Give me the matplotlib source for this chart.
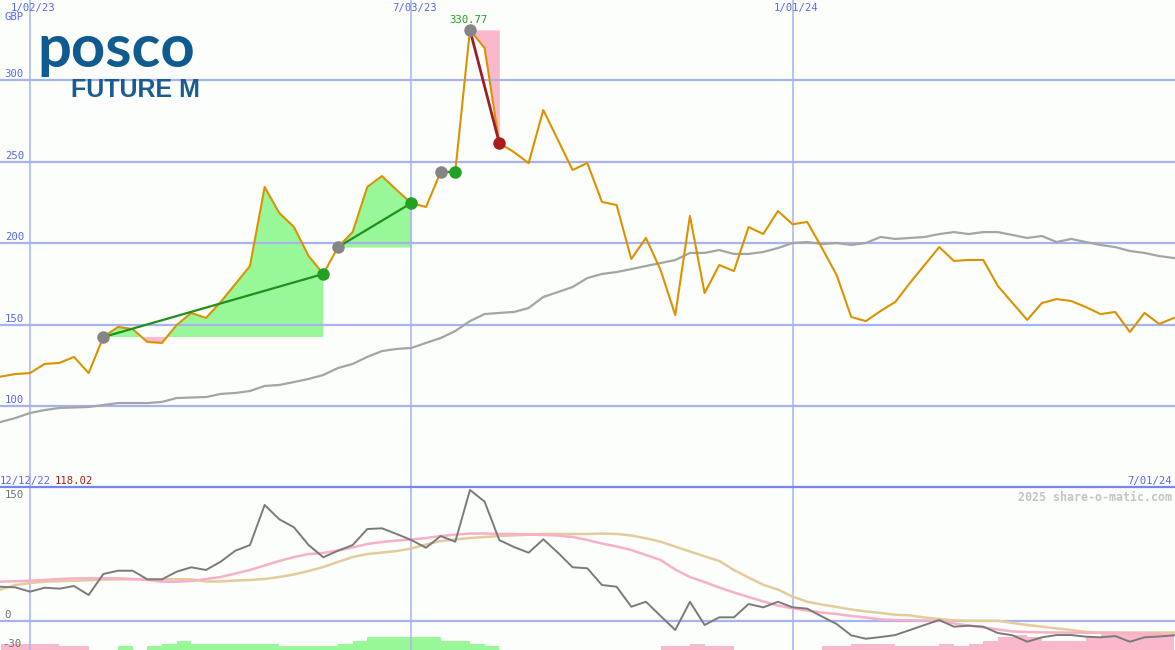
import matplotlib
matplotlib.use('Agg')
import matplotlib.pyplot as plt
import matplotlib.transforms as mtransforms
import matplotlib.dates as mdates
from matplotlib.lines import Line2D
import numpy as np
import pandas as pd

# weekly closes from 19 Dec 2022 to 1 Jul 2024
dates = pd.date_range('2022-12-19', periods=81, freq='7D')

price = [118.02, 119.6, 120.2, 125.8, 126.4, 130.1, 120.2, 142.3, 148.5, 147.2,
         139.3, 138.7, 149.7, 157.1, 154.0, 163.8, 174.8, 185.9, 234.4, 218.4,
         209.8, 192.0, 181.0, 197.5, 206.7, 234.4, 241.1, 232.5, 224.5, 222.1,
         243.4, 243.8, 330.77, 319.6, 261.3, 255.8, 249.0, 281.6, 263.2, 244.8,
         249.1, 225.2, 223.3, 190.2, 203.1, 183.4, 155.8, 216.6, 169.3, 186.5,
         182.8, 209.8, 205.5, 219.6, 211.5, 212.9, 197.0, 180.4, 154.6, 152.1,
         158.3, 163.8, 175.5, 186.5, 197.5, 189.0, 189.6, 189.6, 173.6, 163.2,
         152.8, 163.2, 165.6, 164.4, 160.7, 156.4, 157.7, 145.4, 157.1, 150.3,
         154.0]

avg = [90.2, 92.6, 95.7, 97.5, 98.8, 99.1, 99.4, 100.6, 101.8, 101.8,
       101.8, 102.5, 104.9, 105.2, 105.5, 107.4, 108.0, 109.2, 112.3, 112.9,
       114.7, 116.6, 119.0, 123.3, 125.8, 130.1, 133.7, 135.0, 135.6, 138.7,
       141.7, 146.0, 152.1, 156.4, 157.1, 157.7, 160.1, 166.9, 169.9, 173.0,
       178.5, 181.0, 182.2, 184.0, 185.9, 187.7, 189.6, 193.9, 193.9, 195.7,
       193.3, 193.3, 194.5, 196.9, 200.0, 200.6, 199.4, 200.0, 198.8, 200.0,
       203.7, 202.5, 203.1, 203.7, 205.5, 206.7, 205.5, 206.7, 206.7, 204.9,
       203.1, 204.3, 200.6, 202.5, 200.6, 198.8, 197.5, 195.1, 193.9, 192.0,
       190.8]

osc = [38.1, 37.4, 32.6, 37.0, 35.9, 38.9, 28.9, 52.2, 55.9, 55.9,
       46.3, 46.3, 54.8, 59.7, 56.7, 65.9, 78.1, 84.4, 128.9, 113.0,
       104.1, 84.4, 70.8, 78.1, 84.4, 102.2, 103.0, 96.7, 90.0, 81.4,
       94.4, 88.1, 145.6, 132.6, 90.0, 82.2, 75.9, 90.8, 75.9, 59.7,
       58.6, 40.0, 38.1, 15.9, 21.4, 5.6, -10.0, 21.4, -4.4, 4.1,
       4.1, 18.9, 15.2, 21.4, 15.2, 13.7, 5.0, -3.3, -15.9, -19.7,
       -17.8, -15.6, -10.0, -4.4, 1.1, -6.3, -5.2, -6.3, -13.3, -15.9,
       -23.0, -18.1, -15.6, -15.6, -17.4, -18.1, -16.7, -23.0, -18.1, -17.2,
       -15.9]

osc_fast = [43.7, 44.2, 44.8, 45.6, 46.7, 47.4, 47.4, 47.4, 47.4, 46.7,
            45.6, 43.7, 43.7, 44.4, 46.7, 48.9, 52.8, 56.7, 61.7, 66.7,
            71.1, 74.4, 75.6, 78.3, 81.7, 85.6, 87.8, 89.4, 90.6, 92.2,
            94.4, 96.1, 97.2, 97.2, 96.7, 96.7, 96.1, 95.6, 95.0, 93.3,
            90.0, 86.1, 82.8, 78.9, 73.3, 67.8, 57.2, 48.9, 43.3, 37.2,
            31.7, 26.7, 21.7, 17.2, 14.1, 11.7, 9.4, 7.8, 5.6, 3.9,
            1.7, 1.1, 0.8, 0.6, 0.3, -2.8, -5.0, -7.0, -9.4, -11.6,
            -12.2, -12.6, -12.8, -12.9, -13.0, -13.1, -13.2, -13.7, -14.2, -14.8,
            -15.6]

osc_slow = [35.2, 40.0, 42.2, 43.7, 44.2, 44.8, 45.2, 45.9, 46.3, 46.3,
            46.3, 46.3, 46.3, 46.3, 43.9, 43.9, 45.0, 45.6, 46.7, 48.9,
            51.7, 55.6, 60.0, 65.6, 71.1, 74.4, 76.1, 77.8, 80.6, 85.0,
            88.9, 90.6, 92.2, 93.3, 94.4, 95.2, 95.9, 96.7, 96.7, 96.7,
            96.7, 97.2, 96.7, 95.0, 91.9, 88.1, 82.7, 77.2, 71.9, 66.7,
            56.7, 48.3, 40.2, 35.0, 27.0, 21.4, 18.3, 15.6, 12.8, 10.6,
            8.9, 6.9, 6.3, 3.9, 2.2, 0.8, 0.3, 0.3, 0.3, -2.2,
            -4.4, -6.3, -8.1, -10.0, -12.0, -12.8, -12.8, -12.8, -12.8, -12.8,
            -12.8]

# one bar per week interval, sign gives the colour
hist = [-7, -7, -7, -7, -4, -4, 0, 0, 4, 0,
        4, 7, 10, 7, 7, 7, 7, 7, 7, 4,
        4, 4, 4, 7, 10, 14, 14, 14, 14, 14,
        10, 10, 7, 4, 0, 0, 0, 0, 0, 0,
        0, 0, 0, 0, 0, -4, -4, -7, -4, -4,
        0, 0, 0, 0, 0, 0, -4, -4, -7, -7,
        -7, -4, -4, -4, -7, -4, -7, -10, -14, -17,
        -14, -10, -10, -10, -14, -18, -18, -18, -17, -17]

trade_open = [7, 23, 30, 32]
trade_close = [22, 28, 31, 34]

grid_dates = ['2023-01-02', '2023-07-03', '2024-01-01']
grid_labels = ['1/02/23', '7/03/23', '1/01/24']
price_ticks = [100, 150, 200, 250, 300]
start_label = '12/12/22'
end_label = '7/01/24'

W, H = 1175, 650
bg = '#fbfefb'
grid_c = '#a8b2f0'
text_c = '#5a66f0'
green_fill = '#98f898'
pink_fill = '#f9b8cb'
mono = 'DejaVu Sans Mono'
fs = 7.7

x = mdates.date2num(dates)
gx = mdates.date2num(pd.to_datetime(grid_dates))

fig = plt.figure(figsize=(W / 100, H / 100), dpi=100, facecolor=bg)
split = (H - 487) / H
ax = fig.add_axes([0, split, 1, 1 - split])
ax2 = fig.add_axes([0, 0, 1, split])
for a in (ax, ax2):
    a.set_xlim(x[0] - 0.32, x[-1] + 0.53)
    a.axis('off')
ax.set_ylim(50.3, 349.1)
ax2.set_ylim(-32.2, 148.9)

# main panel grid
for v in price_ticks:
    ax.axhline(v, color=grid_c, lw=1.6, zorder=2)
for g in gx:
    ax.axvline(g, color=grid_c, lw=1.1, zorder=2)
    ax2.axvline(g, color=grid_c, lw=1.1, zorder=2)

# trades: fill against entry level, connector line and dots
for a, b in zip(trade_open, trade_close):
    xs = x[a:b + 1]
    ys = np.array(price[a:b + 1])
    lvl = price[a]
    ax.fill_between(xs, ys, lvl, where=ys >= lvl, interpolate=True,
                    color=green_fill, lw=0, zorder=1)
    ax.fill_between(xs, ys, lvl, where=ys <= lvl, interpolate=True,
                    color=pink_fill, lw=0, zorder=1)
    win = price[b] > price[a]
    ax.plot([x[a], x[b]], [price[a], price[b]],
            color='#1f8f1f' if win else '#a01c24', lw=1.6 if win else 2.0, zorder=5)

ax.plot(x, avg, color='#a4a4a4', lw=1.6, zorder=3)
ax.plot(x, price, color='#db9200', lw=1.5, zorder=4)

for a, b in zip(trade_open, trade_close):
    win = price[b] > price[a]
    ax.plot(x[a], price[a], 'o', ms=9, mew=0, color='#858585', zorder=6)
    ax.plot(x[b], price[b], 'o', ms=9, mew=0,
            color='#22a022' if win else '#a81c1c', zorder=6)

# price axis labels
blend = mtransforms.blended_transform_factory(ax.transAxes, ax.transData)
for v in price_ticks:
    ax.text(0.004, v + 0.6, str(v), transform=blend, ha='left', va='bottom',
            fontsize=fs, family=mono, color=text_c)
top = mtransforms.blended_transform_factory(ax.transData, ax.transAxes)
for g, lab in zip(gx, grid_labels):
    ax.annotate(lab, xy=(g, 1), xycoords=top, xytext=(2.5, -2.5),
                textcoords='offset points', ha='center', va='top',
                fontsize=fs, family=mono, color=text_c)
ax.text(0.004, 1 - 12 / 487, 'GBP', transform=ax.transAxes, ha='left', va='top',
        fontsize=fs, family=mono, color=text_c)

imax = int(np.argmax(price))
ax.annotate(f'{price[imax]:.2f}', xy=(x[imax], price[imax]), xytext=(-1, 3.5),
            textcoords='offset points', ha='center', va='bottom',
            fontsize=fs, family=mono, color='#22a022')

# logo
fig.text(37 / W, 1 - 67 / H, 'posco', fontsize=43, fontweight='bold',
         family='Lato', color='#0f5a8e', va='baseline', ha='left')
fig.text(71 / W, 1 - 97 / H, 'FUTURE M', fontsize=18, fontweight='bold',
         family='Liberation Sans', color='#1a5b91', va='baseline', ha='left')

# lower panel
for i, h in enumerate(hist):
    if h == 0:
        continue
    ax2.bar(x[i], abs(h), width=7, bottom=-32.2, align='edge',
            color=green_fill if h > 0 else pink_fill, lw=0, zorder=1)
ax2.axhline(0, color=grid_c, lw=1.6, zorder=2)
ax2.plot(x, osc_slow, color='#e3cb9c', lw=1.8, zorder=3)
ax2.plot(x, osc_fast, color='#f8b0c6', lw=1.8, zorder=4)
ax2.plot(x, osc, color='#7a7a7a', lw=1.4, zorder=5)

fig.add_artist(Line2D([0, 1], [split, split], transform=fig.transFigure,
                      color='#7686f0', lw=1.6))

blend2 = mtransforms.blended_transform_factory(ax2.transAxes, ax2.transData)
ax2.text(0.004, 145.5, '150', transform=blend2, ha='left', va='top',
         fontsize=fs, family=mono, color='#707070')
ax2.text(0.004, 1.5, '0', transform=blend2, ha='left', va='bottom',
         fontsize=fs, family=mono, color='#707070')
ax2.text(0.002, -31.0, '-30', transform=blend2, ha='left', va='bottom',
         fontsize=fs, family=mono, color='#707070')

fig.text(0 / W, 1 - 484 / H, start_label, fontsize=fs, family=mono,
         color=text_c, ha='left', va='baseline')
fig.text(55 / W, 1 - 484 / H, f'{price[0]:.2f}', fontsize=fs, family=mono,
         color='#a02020', ha='left', va='baseline')
fig.text(1172 / W, 1 - 484 / H, end_label, fontsize=fs, family=mono,
         color=text_c, ha='right', va='baseline')
fig.text(1172 / W, 1 - 501 / H, '2025 share-o-matic.com', fontsize=8.4,
         family=mono, fontweight='bold', color='#c4c4c4', ha='right',
         va='baseline')

fig.savefig('out.png', dpi=100, facecolor=bg)
